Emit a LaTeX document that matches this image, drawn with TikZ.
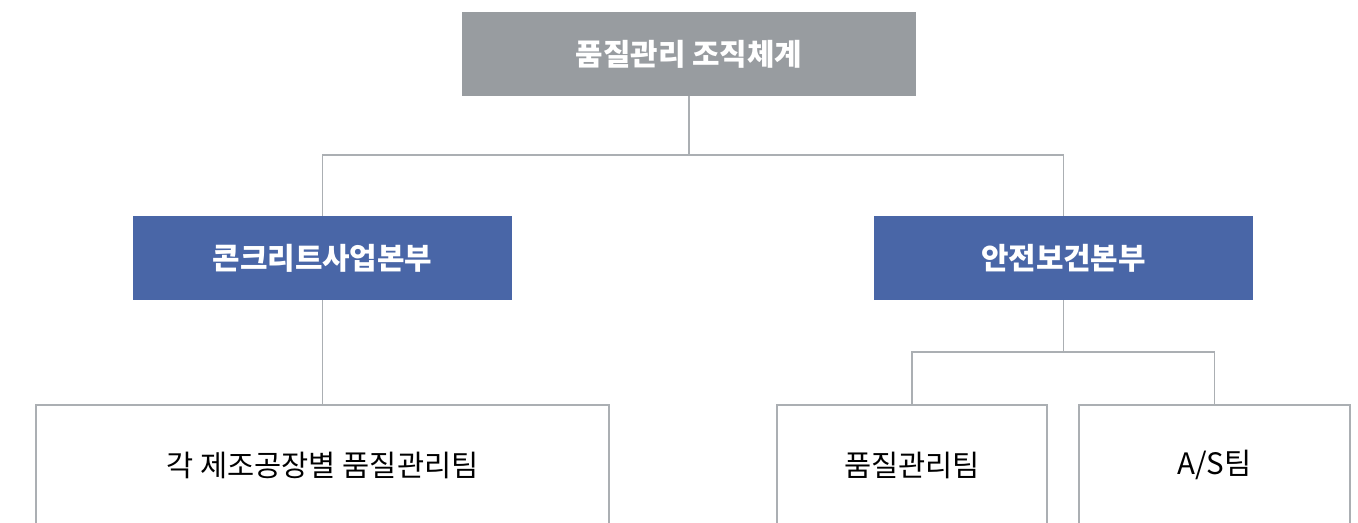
\documentclass[tikz,border=0pt]{standalone}
\usepackage{fontspec}
\setmainfont{Noto Sans CJK KR}
\usepackage{tikz}
\usetikzlibrary{positioning,calc}

\definecolor{headgray}{HTML}{989CA0}
\definecolor{deptblue}{HTML}{4966A7}
\definecolor{linegray}{HTML}{ABAFB3}

\begin{document}
\begin{tikzpicture}[
    x=0.02cm, y=0.02cm,
    every node/.style={
        inner sep=0pt,
        font=\fontsize{16.8}{20}\selectfont
    },
    headbox/.style={
        fill=headgray,
        text=white,
        font=\fontsize{17}{20}\selectfont\bfseries,
        minimum width=9.08cm,
        minimum height=1.68cm
    },
    deptbox/.style={
        fill=deptblue,
        text=white,
        font=\fontsize{17}{20}\selectfont\bfseries,
        minimum width=7.58cm,
        minimum height=1.68cm
    },
    teambox/.style={
        draw=linegray,
        line width=0.8pt,
        fill=white,
        minimum height=2.4cm
    },
    link/.style={
        draw=linegray,
        line width=0.8pt
    }
]

\useasboundingbox (0,0) rectangle (1358,522);
\clip (0,0) rectangle (1358,522);

\node[headbox] (top) at (689,468) {품질관리 조직체계};

\node[deptbox] (concrete) at (322.5,264) {콘크리트사업본부};
\node[deptbox] (safety) at (1063.5,264) {안전보건본부};

\node[teambox, minimum width=11.46cm] (plants) at (322.5,57) {각 제조공장별 품질관리팀};
\node[teambox, minimum width=5.4cm] (qteam) at (912,57) {품질관리팀};
\node[teambox, minimum width=5.42cm] (asteam) at (1214.5,57) {A/S팀};

\coordinate (split1) at (689,367);
\coordinate (split2) at (1063.5,170);

\draw[link] (top.south) -- (split1);
\draw[link] (concrete.north) |- (split1) -| (safety.north);

\draw[link] (concrete.south) -- (plants.north);

\draw[link] (safety.south) -- (split2);
\draw[link] (qteam.north) |- (split2) -| (asteam.north);

\end{tikzpicture}
\end{document}
